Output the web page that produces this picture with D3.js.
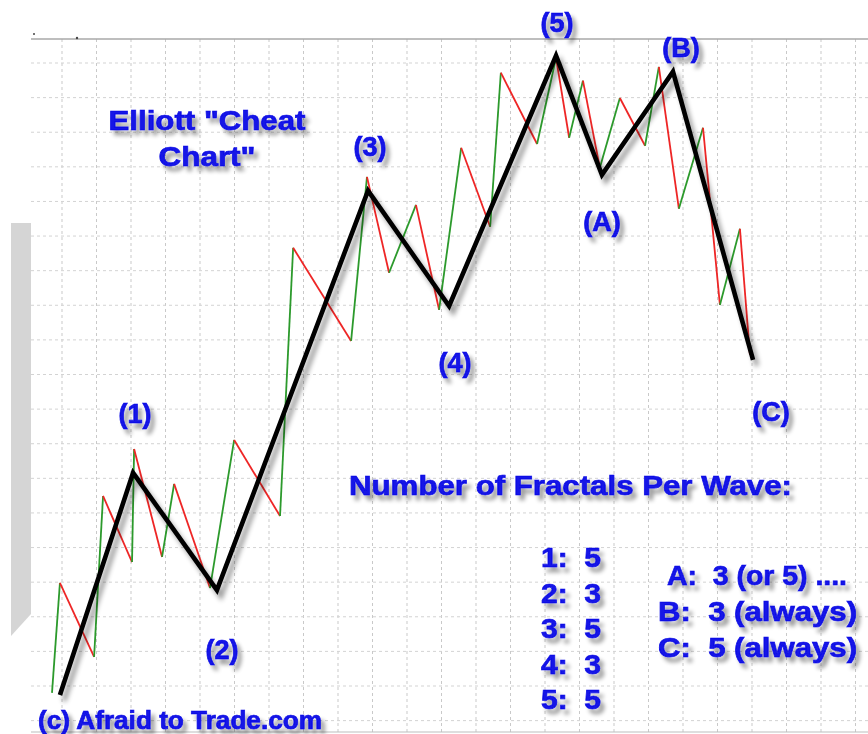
<!DOCTYPE html>
<html><head><meta charset="utf-8">
<script src="https://cdn.jsdelivr.net/npm/d3@7"></script>
<style>
body{margin:0;background:#fff}
svg{display:block}
text{font-family:"Liberation Sans",Arial,sans-serif;font-weight:bold;white-space:pre}
</style>
</head><body>
<svg id="c" width="868" height="734"></svg>
<script>
// ---- data (time in bars, price in grid units) ----
const fractalTime  = [-0.29,-0.06,0.93,1.19,2.03,2.09,2.90,3.25,4.29,4.99,6.32,6.70,8.38,8.84,9.48,10.26,10.93,11.57,12.41,12.72,13.77,14.32,14.70,15.10,15.59,16.17,16.90,17.30,17.88,18.58,19.07,19.65,19.94];
const fractalPrice = [-0.20,2.98,0.84,5.49,3.58,6.85,3.73,5.84,2.83,7.11,4.91,12.66,9.97,14.71,11.94,13.90,10.87,15.55,13.27,17.72,15.66,18.15,15.84,17.49,14.97,16.99,15.61,17.89,13.79,16.13,11.01,13.21,9.57];
const waveTime  = [-0.06,2.06,4.49,8.87,11.22,14.32,15.65,17.71,20.03];
const wavePrice = [-0.26,6.16,2.77,14.31,10.98,18.21,14.77,17.75,9.42];
const waveLabels = ["","(1)","(2)","(3)","(4)","(5)","(A)","(B)","(C)"];
const titleLines = ["Elliott \"Cheat", "Chart\""];
const heading = "Number of Fractals Per Wave:";
const impulseCounts = ["1:  5","2:  3","3:  5","4:  3","5:  5"];
const correctiveCounts = ["A:  3 (or 5) ....","B:  3 (always)","C:  5 (always)"];
const credit = "(c) Afraid to Trade.com";

// ---- layout ----
const labelOffset = [[0,0],[2,-50],[5,69],[2,-35],[6,66],[1,-24],[0,56],[8,-15],[18,61]];
const svg = d3.select("#c");
const x = d3.scaleLinear().domain([0,23]).range([62,855.5]);
const y = d3.scaleLinear().domain([0,18]).range([686,63]);
const plot = {left:31, top:39, right:868, bottom:732};
const blue = "#1212e6";

const defs = svg.append("defs");
const sh = defs.append("filter").attr("id","tshadow").attr("x","-20%").attr("y","-30%").attr("width","150%").attr("height","180%");
sh.append("feGaussianBlur").attr("in","SourceAlpha").attr("stdDeviation",2.2).attr("result","b");
sh.append("feOffset").attr("in","b").attr("dx",4).attr("dy",5).attr("result","o");
sh.append("feComponentTransfer").attr("in","o").attr("result","o2").append("feFuncA").attr("type","linear").attr("slope",0.4);
const m1 = sh.append("feMerge"); m1.append("feMergeNode").attr("in","o2"); m1.append("feMergeNode").attr("in","SourceGraphic");

const sh2 = defs.append("filter").attr("id","lshadow").attr("x","-20%").attr("y","-20%").attr("width","140%").attr("height","140%");
sh2.append("feGaussianBlur").attr("in","SourceAlpha").attr("stdDeviation",2.5).attr("result","b");
sh2.append("feOffset").attr("in","b").attr("dx",4).attr("dy",6).attr("result","o");
sh2.append("feComponentTransfer").attr("in","o").attr("result","o2").append("feFuncA").attr("type","linear").attr("slope",0.4);
const m2 = sh2.append("feMerge"); m2.append("feMergeNode").attr("in","o2"); m2.append("feMergeNode").attr("in","SourceGraphic");

defs.append("clipPath").attr("id","pc").append("rect")
  .attr("x",plot.left).attr("y",plot.top).attr("width",plot.right-plot.left).attr("height",plot.bottom-plot.top);

// side gray panel
svg.append("polygon").attr("points",[[11,223],[31,223],[31,614],[11,636]].map(p=>p.join(",")).join(" "))
  .attr("fill","#d5d5d5");

// grid
const grid = svg.append("g").attr("clip-path","url(#pc)");
grid.selectAll("line.v").data(d3.range(-1,24)).join("line").attr("class","v")
  .attr("x1",d=>x(d)).attr("x2",d=>x(d)).attr("y1",plot.top).attr("y2",plot.bottom)
  .attr("stroke","#c9c9c9").attr("stroke-width",1).attr("stroke-dasharray","3,3");
grid.selectAll("line.h").data(d3.range(-2,20)).join("line").attr("class","h")
  .attr("y1",d=>y(d)).attr("y2",d=>y(d)).attr("x1",plot.left).attr("x2",plot.right)
  .attr("stroke","#d3d3d3").attr("stroke-width",1).attr("stroke-dasharray","3,3");

svg.append("line").attr("x1",plot.left).attr("x2",plot.right).attr("y1",plot.top).attr("y2",plot.top)
  .attr("stroke","#a8a8a8").attr("stroke-width",1.5);
svg.append("line").attr("x1",plot.left).attr("x2",plot.right).attr("y1",plot.bottom).attr("y2",plot.bottom)
  .attr("stroke","#bdbdbd").attr("stroke-width",1.2);
svg.append("circle").attr("cx",34).attr("cy",34).attr("r",1).attr("fill","#444");
svg.append("circle").attr("cx",77).attr("cy",38).attr("r",1.2).attr("fill","#444");

// fractal zigzag
const segs = d3.range(fractalTime.length-1).map(i=>({
  x0:fractalTime[i], y0:fractalPrice[i], x1:fractalTime[i+1], y1:fractalPrice[i+1]}));
svg.append("g").selectAll("line").data(segs).join("line")
  .attr("x1",d=>x(d.x0)).attr("y1",d=>y(d.y0)).attr("x2",d=>x(d.x1)).attr("y2",d=>y(d.y1))
  .attr("stroke",d=>d.y1>d.y0?"#2c9a2c":"#ee2626").attr("stroke-width",1.8);

// wave line
const wave = waveTime.map((t,i)=>[t,wavePrice[i]]);
svg.append("path").datum(wave)
  .attr("d",d3.line().x(d=>x(d[0])).y(d=>y(d[1])))
  .attr("fill","none").attr("stroke","#000").attr("stroke-width",4.6)
  .attr("stroke-linejoin","miter").attr("filter","url(#lshadow)");

// labels
const tg = svg.append("g").attr("filter","url(#tshadow)").attr("fill",blue)
  .attr("stroke",blue).attr("stroke-width",0.7);
tg.selectAll("text.wl").data(wave.map((d,i)=>({d,i})).filter(o=>waveLabels[o.i])).join("text")
  .attr("class","wl")
  .attr("x",o=>x(o.d[0])+labelOffset[o.i][0])
  .attr("y",o=>y(o.d[1])+labelOffset[o.i][1])
  .attr("text-anchor","middle").attr("font-size",27)
  .text(o=>waveLabels[o.i]);

tg.selectAll("text.title").data(titleLines).join("text").attr("class","title")
  .attr("x",207).attr("y",(d,i)=>130+i*36).attr("text-anchor","middle").attr("font-size",28)
  .attr("textLength",(d,i)=>i===0?197:97).attr("lengthAdjust","spacingAndGlyphs")
  .text(d=>d);

tg.append("text").attr("x",349).attr("y",495).attr("font-size",28)
  .attr("textLength",443).attr("lengthAdjust","spacingAndGlyphs").text(heading);

tg.selectAll("text.imp").data(impulseCounts).join("text").attr("class","imp")
  .attr("x",541).attr("y",(d,i)=>567+i*35.5).attr("font-size",28)
  .attr("textLength",60).attr("lengthAdjust","spacingAndGlyphs").text(d=>d);

tg.selectAll("text.cor").data(correctiveCounts).join("text").attr("class","cor")
  .attr("x",(d,i)=>i===0?667:658).attr("y",(d,i)=>585+i*36).attr("font-size",28)
  .attr("textLength",(d,i)=>i===0?180:199).attr("lengthAdjust","spacingAndGlyphs").text(d=>d);

tg.append("text").attr("x",38).attr("y",729).attr("font-size",25)
  .attr("textLength",284).attr("lengthAdjust","spacingAndGlyphs").text(credit);
</script>
</body></html>
